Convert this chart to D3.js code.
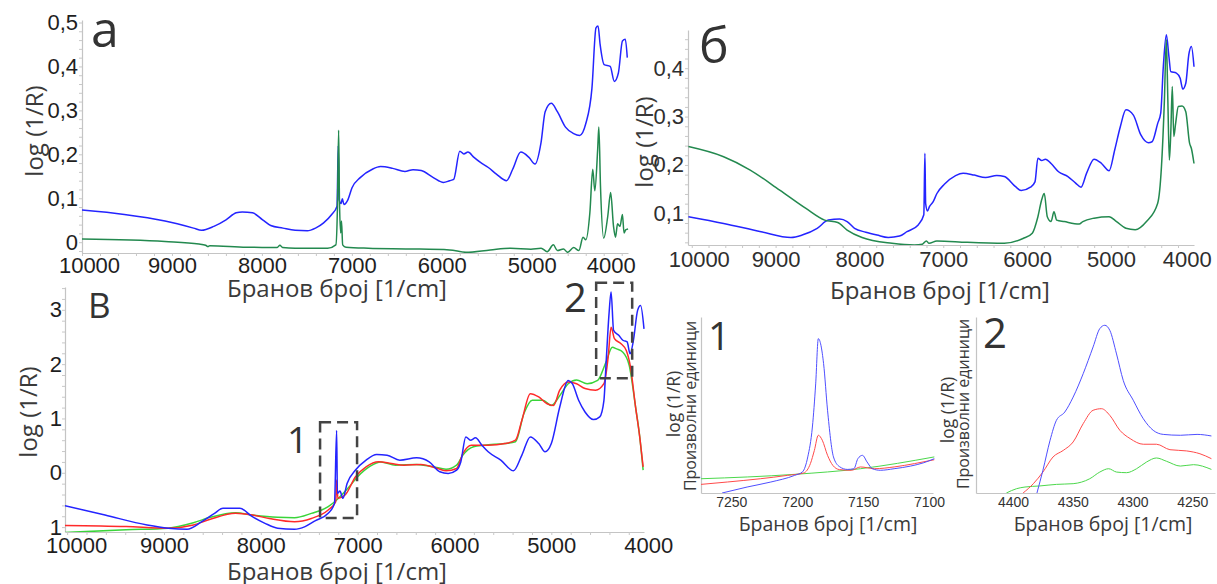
<!DOCTYPE html>
<html>
<head>
<meta charset="utf-8">
<script src="https://cdn.jsdelivr.net/npm/d3@7"></script>
<style>
body{margin:0;background:#fff;}
svg text{font-family:"Open Sans",sans-serif;}
.tick text{font-family:"Liberation Sans",Arial,sans-serif;}
</style>
</head>
<body>
<svg id="fig" width="1217" height="584"></svg>
<script>
// ---- панел а ----
var aTicksX = [10000, 9000, 8000, 7000, 6000, 5000, 4000];
var aTicksY = [0, 0.1, 0.2, 0.3, 0.4, 0.5];
var aLabelsY = ["0", "0,1", "0,2", "0,3", "0,4", "0,5"];
var aBlueX = [10000,9529,9077,8760,8670,8534,8399,8286,8218,8105,7992,7902,7766,7630,7495,7404,7314,7224,7165,7151,7142,7120,7106,7088,7043,6998,6907,6772,6681,6546,6410,6320,6229,6094,5981,5913,5868,5800,5755,5709,5642,5574,5483,5393,5280,5212,5122,5031,4964,4896,4851,4783,4715,4625,4534,4467,4399,4331,4286,4263,4240,4195,4128,4082,4037,3992,3960,3938];
var aBlueY = [0.073,0.063,0.048,0.032,0.027,0.036,0.051,0.067,0.069,0.067,0.051,0.038,0.032,0.027,0.026,0.032,0.044,0.063,0.082,0.22,0.097,0.088,0.099,0.086,0.097,0.124,0.147,0.166,0.172,0.168,0.161,0.165,0.163,0.147,0.136,0.14,0.143,0.207,0.201,0.205,0.193,0.182,0.17,0.155,0.14,0.166,0.205,0.193,0.178,0.228,0.297,0.316,0.297,0.262,0.247,0.243,0.27,0.35,0.488,0.492,0.45,0.404,0.40,0.366,0.385,0.458,0.462,0.42];
var aGreenX = [10000,9077,8700,8625,8600,8580,8173,7830,7800,7770,7630,7269,7178,7160,7147,7138,7124,7115,7102,7065,6817,6365,5913,5732,5461,5235,5009,4896,4828,4760,4715,4647,4602,4534,4476,4430,4399,4354,4322,4299,4267,4254,4236,4200,4155,4123,4091,4069,4046,4019,3992,3974,3956,3929];
var aGreenY = [0.007,0.0015,-0.004,-0.007,-0.01,-0.008,-0.0115,-0.012,-0.007,-0.012,-0.0138,-0.0138,-0.006,0.082,0.255,0.097,0.021,0.048,-0.006,-0.0115,-0.0138,-0.0153,-0.0176,-0.023,-0.0176,-0.0138,-0.016,-0.0138,-0.0215,-0.0061,-0.019,-0.0153,-0.023,-0.0123,-0.019,0.0115,0.0054,0.067,0.166,0.117,0.212,0.262,0.128,0.0092,0.059,0.113,0.036,0.0115,0.042,0.036,0.063,0.021,0.028,0.030];

// ---- панел б ----
var bTicksX = [10000, 9000, 8000, 7000, 6000, 5000, 4000];
var bTicksY = [0.1, 0.2, 0.3, 0.4];
var bLabelsY = ["0,1", "0,2", "0,3", "0,4"];
var bBlueX = [10040,9620,9174,8817,8683,8504,8370,8237,8147,8058,7924,7790,7656,7522,7433,7299,7232,7219,7210,7188,7165,7120,7076,6987,6853,6763,6629,6496,6362,6272,6138,6071,5960,5906,5871,5826,5781,5714,5625,5513,5424,5357,5290,5201,5112,5022,4955,4888,4821,4732,4643,4554,4509,4442,4406,4375,4339,4308,4286,4219,4174,4143,4107,4071,4040,4009];
var bBlueY = [0.093,0.079,0.062,0.05,0.055,0.069,0.086,0.088,0.083,0.069,0.061,0.055,0.05,0.053,0.062,0.076,0.097,0.224,0.12,0.105,0.114,0.124,0.141,0.16,0.178,0.183,0.179,0.174,0.178,0.176,0.155,0.147,0.154,0.165,0.214,0.209,0.212,0.203,0.186,0.176,0.163,0.154,0.183,0.212,0.203,0.188,0.231,0.279,0.314,0.303,0.262,0.246,0.248,0.286,0.307,0.403,0.469,0.424,0.393,0.39,0.379,0.357,0.369,0.428,0.445,0.403];
var bGreenX = [10040,9620,9308,8951,8638,8415,8259,8147,7969,7612,7344,7250,7201,7170,7076,6719,6272,6049,5938,5871,5826,5795,5759,5714,5679,5647,5558,5379,5335,5201,5022,4933,4821,4710,4576,4442,4397,4362,4339,4321,4303,4286,4268,4250,4228,4196,4152,4107,4062,4040,4009];
var bGreenY = [0.238,0.217,0.19,0.148,0.11,0.086,0.081,0.0655,0.05,0.038,0.0345,0.036,0.043,0.038,0.043,0.04,0.038,0.048,0.059,0.093,0.128,0.141,0.093,0.083,0.103,0.086,0.083,0.078,0.083,0.09,0.093,0.083,0.069,0.066,0.083,0.121,0.197,0.334,0.459,0.334,0.21,0.266,0.362,0.259,0.286,0.321,0.322,0.31,0.245,0.234,0.203];

// ---- панел в ----
var vTicksX = [10000, 9000, 8000, 7000, 6000, 5000, 4000];
var vTicksY = [-1, 0, 1, 2, 3];
var vLabelsY = ["1", "0", "1", "2", "3"];
var vBlueX = [10022,9609,9174,8957,8761,8609,8478,8391,8217,8087,7957,7826,7652,7543,7435,7304,7239,7217,7209,7183,7152,7109,7022,6913,6804,6696,6565,6391,6261,6152,6065,5978,5935,5883,5835,5783,5717,5652,5522,5391,5304,5217,5130,5065,5000,4913,4826,4783,4717,4652,4565,4500,4457,4435,4404,4383,4357,4304,4261,4217,4187,4152,4109,4078,4043];
var vBlueY = [-0.606,-0.778,-0.961,-1.02,-1.04,-0.9,-0.747,-0.655,-0.655,-0.808,-0.93,-1.02,-1.04,-0.99,-0.88,-0.747,-0.563,0.78,-0.38,-0.337,-0.47,-0.196,0.05,0.233,0.337,0.325,0.233,0.276,0.202,0.018,-0.012,0.049,0.2,0.661,0.6,0.643,0.508,0.386,0.233,0.037,0.325,0.661,0.539,0.386,0.539,1.21,1.70,1.64,1.33,1.12,0.98,1.03,1.33,2.0,2.93,3.33,2.62,2.53,2.44,2.41,2.19,2.44,2.99,3.08,2.65];
var vRedX = [10022,9391,8957,8696,8522,8261,8087,7913,7652,7478,7304,7226,7217,7204,7130,7022,6913,6783,6652,6522,6348,6174,6087,5978,5913,5826,5652,5478,5370,5304,5217,5130,5043,4978,4913,4826,4739,4652,4543,4457,4413,4383,4348,4283,4226,4183,4130,4087,4052];
var vRedY = [-0.97,-0.99,-1.02,-0.96,-0.857,-0.747,-0.778,-0.84,-0.9,-0.84,-0.686,-0.533,-0.135,-0.47,-0.41,-0.073,0.11,0.202,0.171,0.141,0.153,0.08,0.037,0.08,0.355,0.508,0.508,0.539,0.6,0.967,1.457,1.396,1.27,1.24,1.52,1.67,1.64,1.55,1.52,1.64,2.13,2.68,2.47,2.38,2.25,1.95,1.21,0.66,0.11];
var vGreenX = [10022,9391,8957,8696,8522,8261,8087,7826,7652,7478,7304,7217,7087,7000,6870,6761,6609,6391,6217,6087,5978,5913,5804,5696,5478,5370,5283,5196,5087,5000,4913,4826,4739,4630,4522,4435,4370,4326,4261,4196,4130,4087,4052];
var vGreenY = [-1.1,-1.05,-1.02,-0.92,-0.82,-0.735,-0.778,-0.82,-0.827,-0.747,-0.625,-0.5,-0.257,-0.073,0.122,0.2,0.141,0.153,0.11,0.067,0.141,0.325,0.478,0.508,0.539,0.57,1.09,1.335,1.335,1.24,1.42,1.64,1.71,1.64,1.70,2.04,2.31,2.28,2.22,1.98,1.21,0.66,0.05];
// зумирани области: [x од, x до, y горе, y долу]
var vBox1 = [7388, 7006, 0.93, -0.83];
var vBox2 = [4537, 4165, 3.5, 1.74];

// ---- детаљ 1 ----
var i1TicksX = [7250, 7200, 7150, 7100];
var i1BlueX = [7257,7238,7220,7202,7196,7192,7188.5,7186,7184,7180,7177,7172.5,7168,7162,7157,7154,7150.5,7147,7143,7137,7126.5,7114,7104,7096];
var i1BlueY = [0,0.034,0.0625,0.10,0.12,0.205,0.375,0.62,0.877,0.735,0.47,0.205,0.15,0.134,0.138,0.195,0.214,0.176,0.138,0.129,0.138,0.153,0.172,0.195];
var i1RedX = [7273,7253,7228,7207.5,7195,7190,7187,7184,7181,7177,7173,7168,7159,7152,7141.5,7126.5,7111,7096];
var i1RedY = [0.049,0.0625,0.081,0.10,0.114,0.167,0.242,0.328,0.30,0.214,0.157,0.133,0.129,0.148,0.138,0.148,0.167,0.189];
var i1GreenX = [7273,7202,7152,7096];
var i1GreenY = [0.081,0.106,0.138,0.205];

// ---- детаљ 2 ----
var i2TicksX = [4400, 4350, 4300, 4250];
var i2BlueX = [4380,4375,4369,4363.7,4356.7,4349.7,4341.3,4333,4327.4,4323.2,4319,4313.4,4307.8,4299.4,4291,4282.7,4274.3,4260,4246,4234];
var i2BlueY = [0,0.129,0.30,0.413,0.46,0.545,0.678,0.83,0.934,0.953,0.924,0.79,0.64,0.527,0.422,0.356,0.333,0.328,0.333,0.324];
var i2RedX = [4391.6,4383,4375,4366.5,4358,4349.7,4341.3,4333,4326,4319,4310.6,4302,4291,4280,4268.7,4254.7,4243.6,4234];
var i2RedY = [0,0.053,0.119,0.205,0.242,0.29,0.394,0.47,0.479,0.441,0.356,0.309,0.277,0.277,0.246,0.239,0.223,0.195];
var i2GreenX = [4405.6,4397,4390,4377.7,4363.7,4349.7,4335.8,4327.4,4320,4313.4,4305,4296.6,4288.3,4280,4271.5,4260,4249,4234];
var i2GreenY = [0,0.0246,0.034,0.04,0.049,0.053,0.081,0.119,0.138,0.119,0.1155,0.138,0.176,0.199,0.18,0.153,0.161,0.134];

var svg = d3.select('#fig');
var clipId = 0;

function pairs(xs, ys){
    return xs.map(function(x, i){ return [x, ys[i]]; })
        .sort(function(a, b){ return a[0] - b[0]; });
}

function minorTicks(domain, step){
    var lo = Math.min(domain[0], domain[1]), hi = Math.max(domain[0], domain[1]);
    return d3.range(Math.ceil(lo / step) * step, hi + 1e-9, step);
}

function drawPanel(p){
    var xs = d3.scaleLinear().domain(p.xDomain).range(p.xRange);
    var ys = d3.scaleLinear().domain(p.yDomain).range(p.yRange);
    var g = svg.append('g');
    var x0 = p.xRange[0], y0 = p.yRange[0];

    // x оска
    var xAxis = g.append('g')
        .attr('transform', 'translate(0,' + y0 + ')')
        .call(d3.axisBottom(xs).tickValues(p.xTicks).tickSize(0)
            .tickPadding(p.xPad).tickFormat(d3.format('d')));
    xAxis.select('.domain').attr('stroke', '#c4c4c4').attr('stroke-width', 1.2);
    xAxis.selectAll('.tick text')
        .attr('font-size', p.tickFont).attr('fill', p.tickColor)
        .attr('dx', function(d, i, n){
            if(i === 0) return p.firstShift || 0;
            if(i === n.length - 1) return p.lastShift || 0;
            return 0;
        });
    if(p.xMinor){
        g.append('g').attr('transform', 'translate(0,' + y0 + ')')
            .call(d3.axisBottom(xs).tickValues(minorTicks(p.xDomain, p.xMinor)).tickSize(3).tickFormat(''))
            .call(function(a){ a.select('.domain').remove(); a.selectAll('line').attr('stroke', '#c8c8c8'); });
    }

    // y оска
    var yAxis = g.append('g')
        .attr('transform', 'translate(' + x0 + ',0)')
        .call(d3.axisLeft(ys).tickValues(p.yTicks || []).tickSize(0).tickPadding(p.yPad || 4)
            .tickFormat(function(d, i){ return p.yLabels[i]; }));
    yAxis.select('.domain').attr('stroke', '#c4c4c4').attr('stroke-width', 1.2);
    yAxis.selectAll('.tick text').attr('font-size', p.tickFont).attr('fill', p.tickColor);
    if(p.yMinor){
        g.append('g').attr('transform', 'translate(' + x0 + ',0)')
            .call(d3.axisLeft(ys).tickValues(minorTicks(p.yDomain, p.yMinor)).tickSize(3).tickFormat(''))
            .call(function(a){ a.select('.domain').remove(); a.selectAll('line').attr('stroke', '#c8c8c8'); });
    }

    // криви
    clipId++;
    svg.append('clipPath').attr('id', 'c' + clipId).append('rect')
        .attr('x', x0).attr('y', p.yRange[1] - 2)
        .attr('width', p.xRange[1] - x0 + 2).attr('height', y0 - p.yRange[1] + 2);
    var line = d3.line()
        .x(function(d){ return xs(d[0]); })
        .y(function(d){ return ys(d[1]); })
        .curve(d3.curveMonotoneX);
    var plot = g.append('g').attr('clip-path', 'url(#c' + clipId + ')');
    p.series.forEach(function(s){
        plot.append('path')
            .datum(pairs(s.x, s.y))
            .attr('d', line)
            .attr('fill', 'none')
            .attr('stroke', s.color)
            .attr('stroke-width', s.width || 1.5)
            .attr('stroke-linejoin', 'round');
    });

    // правоаголници
    (p.boxes || []).forEach(function(b){
        g.append('rect')
            .attr('x', xs(b[0])).attr('y', ys(b[2]))
            .attr('width', xs(b[1]) - xs(b[0])).attr('height', ys(b[3]) - ys(b[2]))
            .attr('fill', 'none').attr('stroke', '#444')
            .attr('stroke-width', 2.5).attr('stroke-dasharray', '11,6');
    });

    // наслови на оските
    g.append('text')
        .attr('x', p.xTitle[0]).attr('y', p.xTitle[1])
        .attr('text-anchor', 'middle').attr('font-size', p.xTitleFont).attr('fill', '#3a3a3a')
        .text('Бранов број [1/cm]');
    p.yTitles.forEach(function(t){
        g.append('text')
            .attr('transform', 'translate(' + t.x + ',' + t.y + ') rotate(-90)')
            .attr('text-anchor', 'middle').attr('dominant-baseline', 'central')
            .attr('font-size', t.size).attr('fill', '#3a3a3a')
            .text(t.text);
    });

    // ознаки
    (p.marks || []).forEach(function(m){
        g.append('text')
            .attr('x', m.x).attr('y', m.y)
            .attr('font-size', m.size).attr('fill', '#333')
            .text(m.text);
    });
}

// а
drawPanel({
    xDomain: [10000, 3930], xRange: [82, 628],
    yDomain: [-0.0246, 0.5057], yRange: [253, 20],
    xTicks: aTicksX, yTicks: aTicksY, yLabels: aLabelsY,
    xPad: 4, yPad: 4, tickFont: 22, tickColor: '#1e1e1e',
    firstShift: 7, lastShift: -11, xMinor: 200, yMinor: 0.02,
    series: [
        {x: aBlueX, y: aBlueY, color: '#2424ff'},
        {x: aGreenX, y: aGreenY, color: '#23894f'}
    ],
    xTitle: [337, 297], xTitleFont: 24,
    yTitles: [{x: 33, y: 131, text: 'log (1/R)', size: 24}],
    marks: [{x: 91, y: 47, text: 'а', size: 50}]
});

// б
drawPanel({
    xDomain: [10045, 4009], xRange: [688, 1194],
    yDomain: [0.0345, 0.479], yRange: [245, 30],
    xTicks: bTicksX, yTicks: bTicksY, yLabels: bLabelsY,
    xPad: 6, yPad: 4, tickFont: 22, tickColor: '#2e2e2e',
    firstShift: 7, lastShift: -8, xMinor: 200, yMinor: 0.02,
    series: [
        {x: bBlueX, y: bBlueY, color: '#2424ff'},
        {x: bGreenX, y: bGreenY, color: '#23894f'}
    ],
    xTitle: [940, 299], xTitleFont: 24,
    yTitles: [{x: 643, y: 142, text: 'log (1/R)', size: 24}],
    marks: [{x: 699, y: 63, text: 'б', size: 50}]
});

// в
drawPanel({
    xDomain: [10022, 4043], xRange: [65, 644],
    yDomain: [-1.09, 3.42], yRange: [532, 287],
    xTicks: vTicksX, yTicks: vTicksY, yLabels: vLabelsY,
    xPad: 5, yPad: 3, tickFont: 22, tickColor: '#1e1e1e',
    firstShift: 9, lastShift: 0, xMinor: 200, yMinor: 0.2,
    series: [
        {x: vGreenX, y: vGreenY, color: '#3ad43a'},
        {x: vRedX, y: vRedY, color: '#ff2a2a'},
        {x: vBlueX, y: vBlueY, color: '#2424ff'}
    ],
    boxes: [vBox1, vBox2],
    xTitle: [337, 580], xTitleFont: 24,
    yTitles: [{x: 27, y: 412, text: 'log (1/R)', size: 24}],
    marks: [
        {x: 88, y: 318, text: 'В', size: 35},
        {x: 287, y: 453, text: '1', size: 37},
        {x: 564, y: 312, text: '2', size: 40}
    ]
});

// детаљ 1
drawPanel({
    xDomain: [7273, 7097], xRange: [701, 933],
    yDomain: [0, 1], yRange: [493, 317],
    xTicks: i1TicksX, yTicks: [], yLabels: [],
    xPad: 4, tickFont: 14, tickColor: '#333',
    series: [
        {x: i1GreenX, y: i1GreenY, color: '#4cd84c', width: 1},
        {x: i1RedX, y: i1RedY, color: '#ff4a4a', width: 1},
        {x: i1BlueX, y: i1BlueY, color: '#4f4fff', width: 1}
    ],
    xTitle: [828, 531], xTitleFont: 19.5,
    yTitles: [
        {x: 673, y: 404, text: 'log (1/R)', size: 17.5},
        {x: 690, y: 406, text: 'Произволни единици', size: 16}
    ],
    marks: [{x: 708, y: 350, text: '1', size: 39}]
});

// детаљ 2
drawPanel({
    xDomain: [4431, 4231], xRange: [976, 1215],
    yDomain: [0, 1], yRange: [493, 317],
    xTicks: i2TicksX, yTicks: [], yLabels: [],
    xPad: 4, tickFont: 14, tickColor: '#333',
    series: [
        {x: i2GreenX, y: i2GreenY, color: '#4cd84c', width: 1},
        {x: i2RedX, y: i2RedY, color: '#ff4a4a', width: 1},
        {x: i2BlueX, y: i2BlueY, color: '#4f4fff', width: 1}
    ],
    xTitle: [1103, 531], xTitleFont: 19.5,
    yTitles: [
        {x: 947, y: 410, text: 'log (1/R)', size: 17.5},
        {x: 963, y: 404, text: 'Произволни единици', size: 16}
    ],
    marks: [{x: 983, y: 348, text: '2', size: 42}]
});
</script>
</body>
</html>
